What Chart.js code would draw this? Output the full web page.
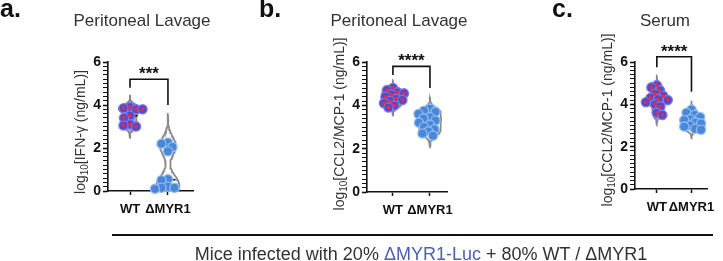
<!DOCTYPE html>
<html>
<head>
<meta charset="utf-8">
<script src="https://cdn.jsdelivr.net/npm/chart.js@4.4.0/dist/chart.umd.min.js"></script>
<style>
  body { margin: 0; background: #fff; }
  #wrap { position: relative; width: 723px; height: 261px; overflow: hidden; font-family: "Liberation Sans", Arial, sans-serif; }
  #wrap canvas { position: absolute; left: 0; top: 0; }
  .txt { position: absolute; line-height: 1; white-space: nowrap; color: #333; }
  .letter { font-weight: bold; font-size: 25px; color: #111; top: -4px; }
  .title { font-size: 17px; top: 12px; transform: translateX(-50%); }
  #rule { position: absolute; left: 112px; top: 234px; width: 601px; height: 1.5px; background: #111; }
  #foot { font-size: 18px; top: 245px; left: 421px; transform: translateX(-50%); }
  #foot span { color: #4a5fb5; }
</style>
</head>
<body>
<div id="wrap">
  <canvas id="cA" width="723" height="261"></canvas>
  <canvas id="cB" width="723" height="261"></canvas>
  <canvas id="cC" width="723" height="261"></canvas>
  <div class="txt letter" style="left:0px">a.</div>
  <div class="txt letter" style="left:259px">b.</div>
  <div class="txt letter" style="left:552px">c.</div>
  <div class="txt title" style="left:142px" id="tA"></div>
  <div class="txt title" style="left:399px" id="tB"></div>
  <div class="txt title" style="left:665px" id="tC"></div>
  <div id="rule"></div>
  <div class="txt" id="foot">Mice infected with 20% <span>ΔMYR1-Luc</span> + 80% WT / ΔMYR1</div>
</div>
<script>
const groups = ['WT', 'ΔMYR1'];
const yTickLabels = [0, 2, 4, 6];
const panelTitles = ['Peritoneal Lavage', 'Peritoneal Lavage', 'Serum'];
const yAnalytes = ['IFN-γ', 'CCL2/MCP-1', 'CCL2/MCP-1'];
const sigStars = ['***', '****', '****'];

// log10 values
const ifngWT = [3.9, 3.85, 3.8, 3.8, 3.5, 3.4, 3.1, 3.05, 3.0];
const ifngKO = [2.25, 2.2, 2.05, 1.85, 0.55, 0.5, 0.2, 0.15, 0.15, 0.1];
const lavCclWT = [4.8, 4.7, 4.6, 4.55, 4.5, 4.4, 4.3, 4.25, 4.2, 4.1, 4.0, 3.9];
const lavCclKO = [3.85, 3.75, 3.7, 3.6, 3.45, 3.4, 3.3, 3.2, 3.1, 3.0, 2.9, 2.8, 2.7, 2.6];
const serCclWT = [4.9, 4.8, 4.65, 4.5, 4.4, 4.3, 4.25, 4.2, 4.1, 4.0, 3.9, 3.6, 3.5];
const serCclKO = [3.75, 3.6, 3.5, 3.4, 3.3, 3.25, 3.15, 3.1, 3.0, 2.95, 2.85, 2.8];

// significance brackets: [left leg end, bar, right leg end]
const bracketA = [4.8, 5.2, 4.0];
const bracketB = [5.4, 5.8, 4.8];
const bracketC = [5.75, 6.25, 4.6];

// plot boxes in page pixels
const layout = [
  { id: 'cA', l: 108, r: 193, t: 62, b: 191, xmin: -0.58, xmax: 1.66, tcy: 132 },
  { id: 'cB', l: 367, r: 447, t: 62, b: 192, xmin: -0.70, xmax: 1.46, tcy: 124 },
  { id: 'cC', l: 635, r: 715, t: 62, b: 189, xmin: -0.63, xmax: 1.47, tcy: 120 }
];

const FONT = '"Liberation Sans", Arial, sans-serif';

function median(a) {
  const s = [...a].sort((p, q) => p - q), m = Math.floor(s.length / 2);
  return s.length % 2 ? s[m] : (s[m - 1] + s[m]) / 2;
}

function bandwidth(a) {
  const n = a.length, mean = a.reduce((s, v) => s + v, 0) / n;
  const sd = Math.sqrt(a.reduce((s, v) => s + (v - mean) ** 2, 0) / (n - 1));
  const s = [...a].sort((p, q) => p - q);
  const iqr = s[Math.floor(n * 0.75)] - s[Math.floor(n * 0.25)];
  return 0.75 * 0.9 * Math.min(sd, iqr / 1.34 || sd) * Math.pow(n, -0.2);
}

// kernel density outline of a group, closed path round its centre
function violin(vals, cx, halfMax) {
  const bw = bandwidth(vals);
  const lo = Math.min(...vals) - 3.4 * bw, hi = Math.max(...vals) + 3.4 * bw;
  const N = 80, ys = [], ds = [];
  for (let i = 0; i <= N; i++) {
    const y = lo + (hi - lo) * i / N;
    ys.push(y);
    ds.push(vals.reduce((s, v) => s + Math.exp(-0.5 * ((y - v) / bw) ** 2), 0));
  }
  const dmax = Math.max(...ds);
  const right = ys.map((y, i) => ({ x: cx + ds[i] / dmax * halfMax, y }));
  const left = ys.map((y, i) => ({ x: cx - ds[i] / dmax * halfMax, y })).reverse();
  return right.concat(left);
}

// simple beeswarm so dots don't sit on top of each other
function swarm(vals, cx, kx, ky) {
  const dmin = 6.2;
  const placed = [];
  const out = vals.map(v => ({ x: cx, y: v }));
  const idx = vals.map((v, i) => i).sort((a, b) => vals[b] - vals[a]);
  idx.forEach((i, n) => {
    const py = vals[i] * ky;
    let dx = 0;
    for (let k = 0; k < 400; k++) {
      const c = k === 0 ? 0 : Math.ceil(k / 2) * 0.5 * ((k + n) % 2 ? 1 : -1);
      if (placed.every(p => (p.x - c) ** 2 + (p.y - py) ** 2 >= dmin * dmin)) { dx = c; break; }
    }
    placed.push({ x: dx, y: py });
    out[i].x = cx + dx / kx;
  });
  return out;
}

const annot = {
  id: 'annot',
  afterDraw(chart, args, o) {
    const { ctx, chartArea: ca, scales: { x, y } } = chart;
    ctx.save();
    ctx.fillStyle = '#111';
    ctx.font = 'bold 17px ' + FONT;
    ctx.textAlign = 'center';
    ctx.textBaseline = 'alphabetic';
    ctx.fillText(o.stars, (x.getPixelForValue(0) + x.getPixelForValue(1)) / 2, y.getPixelForValue(o.bar));

    ctx.fillStyle = '#333';
    ctx.textAlign = 'left';
    ctx.translate(ca.left - 23, o.tcy);
    ctx.rotate(-Math.PI / 2);
    const parts = [['log', '14px ' + FONT, 0], ['10', '10px ' + FONT, 3], ['[' + o.analyte + ' (ng/mL)]', '14px ' + FONT, 0]];
    let total = 0;
    parts.forEach(p => { ctx.font = p[1]; total += ctx.measureText(p[0]).width; });
    let px = -total / 2;
    parts.forEach(p => { ctx.font = p[1]; ctx.fillText(p[0], px, p[2]); px += ctx.measureText(p[0]).width; });
    ctx.restore();
  }
};

function makePanel(L, wt, ko, br, k) {
  const kx = (L.r - L.l) / (L.xmax - L.xmin), ky = (L.b - L.t) / 6;
  const wtPts = swarm(wt, 0, kx, ky), koPts = swarm(ko, 1, kx, ky);
  const isMajor = v => Math.abs(v - Math.round(v)) < 1e-6 && yTickLabels.includes(Math.round(v));
  const line = (data, color, width, order, extra) => Object.assign({
    data, showLine: true, borderColor: color, borderWidth: width, pointRadius: 0, tension: 0, order
  }, extra || {});

  new Chart(document.getElementById(L.id), {
    type: 'scatter',
    data: {
      datasets: [
        line(violin(wt, 0, 0.3), '#8a8a8a', 1.6, 8, { fill: 'shape', backgroundColor: 'rgba(95,85,205,0.55)' }),
        line(violin(ko, 1, 0.3), '#8a8a8a', 1.8, 8, { fill: 'shape', backgroundColor: 'rgba(255,255,255,0.9)' }),
        line([{ x: -0.2, y: median(wt) }, { x: 0.2, y: median(wt) }], '#111', 1.6, 7),
        line([{ x: 0.8, y: median(ko) }, { x: 1.2, y: median(ko) }], '#111', 1.6, 7),
        { data: wtPts, pointRadius: 4.6, backgroundColor: '#5548c6', borderColor: 'rgba(125,120,235,0.95)', borderWidth: 1.4, order: 5, clip: false },
        { data: wtPts, pointRadius: 2, backgroundColor: 'rgba(222,45,75,0.95)', borderWidth: 0, order: 4, clip: false },
        { data: koPts, pointRadius: 4.6, backgroundColor: '#4a87d8', borderColor: 'rgba(145,190,242,0.95)', borderWidth: 1.4, order: 5, clip: false },
        line([{ x: 0, y: br[0] }, { x: 0, y: br[1] }, { x: 1, y: br[1] }, { x: 1, y: br[2] }], '#111', 1.6, 1, { clip: false })
      ]
    },
    options: {
      responsive: false,
      animation: false,
      events: [],
      layout: { padding: { left: L.l - 30, right: 723 - L.r, top: L.t, bottom: 261 - L.b - 30 } },
      plugins: {
        legend: { display: false },
        tooltip: { enabled: false },
        annot: { stars: sigStars[k], bar: br[1], analyte: yAnalytes[k], tcy: L.tcy }
      },
      scales: {
        x: {
          type: 'linear', min: L.xmin, max: L.xmax,
          afterFit: s => { s.height = 30; },
          afterBuildTicks: s => { s.ticks = [{ value: 0 }, { value: 1 }]; },
          ticks: { callback: v => groups[v], color: '#111', font: { family: FONT, size: 13, weight: 'bold' }, padding: 7, maxRotation: 0, autoSkip: false },
          grid: { drawOnChartArea: false, tickLength: 4, tickWidth: 1.5, tickColor: '#111' },
          border: { color: '#111', width: 1.6 }
        },
        y: {
          min: 0, max: 6,
          afterFit: s => { s.width = 30; },
          ticks: {
            stepSize: 0.2, maxTicksLimit: 40, autoSkip: false,
            callback: v => isMajor(v) ? String(Math.round(v)) : '',
            color: '#111', font: { family: FONT, size: 14, weight: 'bold' }, padding: 2
          },
          grid: {
            drawOnChartArea: false, tickLength: 5, tickColor: '#111',
            tickWidth: c => isMajor(c.tick.value) ? 1.6 : 1
          },
          border: { color: '#111', width: 1.6 }
        }
      }
    },
    plugins: [annot]
  });
}

['tA', 'tB', 'tC'].forEach((id, i) => { document.getElementById(id).textContent = panelTitles[i]; });
makePanel(layout[0], ifngWT, ifngKO, bracketA, 0);
makePanel(layout[1], lavCclWT, lavCclKO, bracketB, 1);
makePanel(layout[2], serCclWT, serCclKO, bracketC, 2);
</script>
</body>
</html>
